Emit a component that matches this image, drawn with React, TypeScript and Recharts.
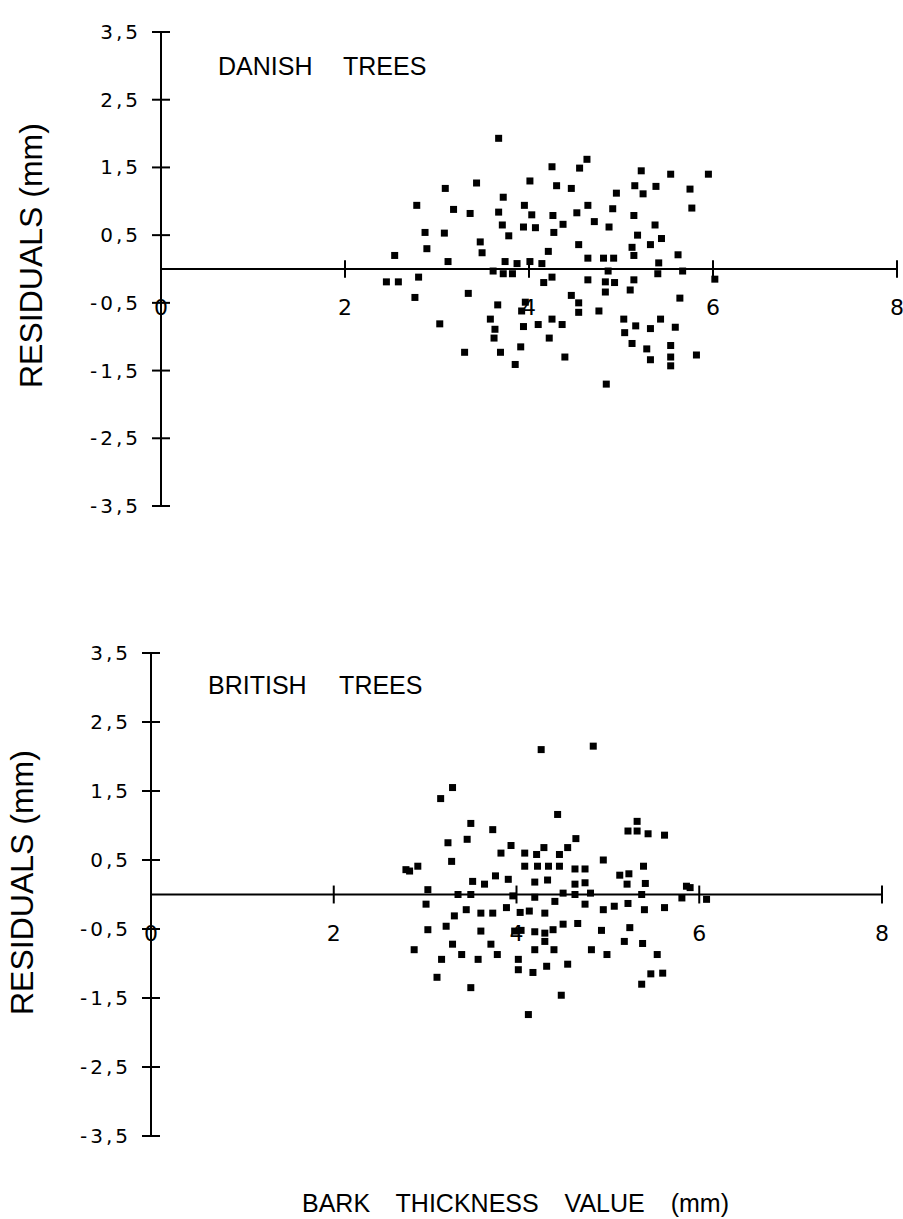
import React from 'react';
import { ScatterChart, Scatter, XAxis, YAxis, ReferenceLine, ReferenceDot } from 'recharts';

// ---- Data ----
const danishX = [
  3.67, 4.63, 4.55, 4.25, 5.22, 5.54, 5.95, 4.01, 3.43, 3.09, 4.30, 4.46, 5.15, 5.38, 4.95, 5.75,
  2.78, 3.72, 3.18, 3.36, 3.67, 3.95, 4.03, 4.26, 4.52, 4.64, 4.91, 5.24, 5.77, 5.14,
  3.71, 3.94, 4.07, 4.37, 4.71, 4.87, 4.27, 3.78, 2.87, 3.08, 3.47, 5.18, 5.37, 5.44,
  4.54, 5.12, 5.32, 2.89, 2.54, 3.49, 4.21, 4.64, 4.81, 4.92, 5.14, 5.41, 5.62,
  3.12, 3.74, 3.87, 4.01, 4.14, 5.67, 3.61, 3.72, 3.82, 4.86, 5.40, 2.80, 2.45, 2.58, 6.02,
  4.25, 4.16, 4.64, 4.83, 4.93, 5.14, 5.10, 4.83, 4.46, 2.76, 3.34, 5.64, 4.54, 3.66, 3.96,
  4.54, 4.76, 3.92, 3.58, 5.03, 5.43, 4.25, 3.03, 3.94, 4.10, 4.36, 3.63, 5.16, 5.32, 5.59,
  5.04, 3.62, 4.22, 5.12, 5.54, 3.30, 3.69, 3.91, 5.28, 4.39, 5.32, 5.54, 5.82, 5.54, 3.85, 4.84,
];
const danishY = [
  1.93, 1.62, 1.49, 1.51, 1.45, 1.40, 1.40, 1.30, 1.27, 1.19, 1.23, 1.19, 1.23, 1.22, 1.12, 1.18,
  0.94, 1.06, 0.88, 0.82, 0.84, 0.94, 0.80, 0.79, 0.83, 0.94, 0.89, 1.11, 0.90, 0.79,
  0.65, 0.62, 0.61, 0.66, 0.70, 0.62, 0.54, 0.49, 0.54, 0.53, 0.40, 0.50, 0.65, 0.45,
  0.36, 0.32, 0.36, 0.30, 0.20, 0.24, 0.26, 0.16, 0.16, 0.16, 0.20, 0.09, 0.21,
  0.11, 0.11, 0.08, 0.11, 0.08, -0.03, -0.03, -0.07, -0.07, -0.03, -0.07, -0.12, -0.19, -0.19, -0.15,
  -0.12, -0.20, -0.16, -0.19, -0.20, -0.16, -0.31, -0.34, -0.39, -0.42, -0.36, -0.43, -0.50, -0.53, -0.49,
  -0.64, -0.62, -0.62, -0.74, -0.74, -0.74, -0.74, -0.81, -0.85, -0.82, -0.82, -0.89, -0.84, -0.88, -0.86,
  -0.94, -1.02, -1.02, -1.10, -1.13, -1.23, -1.23, -1.15, -1.18, -1.30, -1.34, -1.30, -1.27, -1.43, -1.41, -1.70,
];

const britishX = [
  4.27, 4.84, 3.30, 3.17, 4.45, 3.50, 3.74, 5.32, 5.22, 5.32, 5.44, 5.62, 3.25, 3.46, 3.29,
  3.83, 3.94, 4.09, 4.22, 4.30, 4.56, 4.65, 4.47, 4.95, 2.92, 2.83, 4.09, 4.23, 4.35, 4.47,
  4.64, 4.75, 5.39, 5.13, 5.23, 3.52, 3.65, 3.77, 3.91, 4.20, 4.34, 4.64, 4.75, 5.21, 5.41,
  5.86, 3.03, 3.36, 3.50, 3.01, 3.96, 4.20, 4.42, 4.51, 4.64, 4.81, 5.37, 5.81, 5.90, 6.08,
  3.45, 3.61, 3.74, 3.89, 4.04, 4.14, 4.31, 4.75, 4.95, 5.07, 5.22, 5.40, 5.62, 3.32, 3.03,
  3.23, 3.61, 3.98, 4.05, 4.20, 4.31, 4.40, 4.51, 4.67, 4.93, 5.24, 3.30, 3.72, 4.31, 4.20,
  4.41, 2.88, 5.18, 5.38, 4.82, 4.99, 3.18, 3.40, 3.58, 3.79, 4.02, 4.02, 4.18, 4.33, 4.56,
  5.54, 5.47, 5.60, 3.13, 5.37, 3.50, 4.49, 4.13, 2.79,
];
const britishY = [
  2.10, 2.15, 1.55, 1.39, 1.16, 1.03, 0.94, 1.06, 0.92, 0.92, 0.88, 0.86, 0.75, 0.80, 0.48,
  0.60, 0.71, 0.60, 0.58, 0.68, 0.68, 0.81, 0.58, 0.50, 0.41, 0.34, 0.41, 0.41, 0.41, 0.41,
  0.37, 0.37, 0.41, 0.28, 0.30, 0.19, 0.15, 0.27, 0.22, 0.18, 0.21, 0.15, 0.17, 0.15, 0.16,
  0.12, 0.07, 0.00, 0.00, -0.14, -0.02, -0.04, -0.10, 0.02, 0.00, 0.02, 0.00, -0.05, 0.10, -0.07,
  -0.22, -0.27, -0.27, -0.19, -0.26, -0.24, -0.27, -0.14, -0.22, -0.17, -0.13, -0.22, -0.19, -0.31, -0.51,
  -0.46, -0.53, -0.53, -0.52, -0.54, -0.56, -0.51, -0.43, -0.42, -0.52, -0.48, -0.72, -0.72, -0.68, -0.80,
  -0.80, -0.80, -0.68, -0.71, -0.80, -0.87, -0.94, -0.87, -0.94, -0.87, -0.94, -1.09, -1.13, -1.04, -1.01,
  -0.87, -1.15, -1.14, -1.20, -1.30, -1.35, -1.46, -1.74, 0.36,
];

const yTicks = [3.5, 2.5, 1.5, 0.5, -0.5, -1.5, -2.5, -3.5];
const xTicks = [0, 2, 4, 6, 8];
const xTickMarks = [2, 4, 6, 8];
const panelTitles = ['DANISH TREES', 'BRITISH TREES'];
const yTitle = 'RESIDUALS (mm)';
const xTitle = 'BARK THICKNESS VALUE (mm)';

const danish = danishX.map((x, i) => ({ x, y: danishY[i] }));
const british = britishX.map((x, i) => ({ x, y: britishY[i] }));

const FONT = "'Liberation Sans', Arial, Helvetica, sans-serif";
const TICKFONT = "'DejaVu Sans', 'Liberation Sans', sans-serif";

const fmt = (v: number) => String(v).replace('.', ',');

const YTick = (props: any) => {
  const { x, y, payload } = props;
  return (
    <g>
      <line x1={x - 9} x2={x + 9} y1={y} y2={y} stroke="#000" strokeWidth={2} />
      <text
        x={x - 20}
        y={y}
        textAnchor="end"
        dominantBaseline="central"
        fontSize={20}
        letterSpacing={3}
        fontFamily={TICKFONT}
        fill="#000"
      >
        {fmt(payload.value)}
      </text>
    </g>
  );
};

const Square = (props: any) => {
  const { cx, cy } = props;
  if (cx == null || cy == null) return null;
  return <rect x={cx - 3.5} y={cy - 3.5} width={7} height={7} fill="#000" />;
};

type PanelProps = {
  data: { x: number; y: number }[];
  height: number;
  top: number;
  bottom: number;
  left: number;
  right: number;
};

const Panel = ({ data, height, top, bottom, left, right }: PanelProps) => (
  <ScatterChart width={903} height={height} margin={{ top, right, bottom, left: 0 }}>
    <XAxis type="number" dataKey="x" domain={[0, 8]} ticks={xTicks} hide allowDataOverflow />
    <YAxis
      type="number"
      dataKey="y"
      domain={[-3.5, 3.5]}
      ticks={yTicks}
      interval={0}
      width={left}
      tickSize={0}
      tickMargin={0}
      tickLine={false}
      axisLine={{ stroke: '#000', strokeWidth: 2 }}
      tick={<YTick />}
      allowDataOverflow
    />
    <ReferenceLine y={0} stroke="#000" strokeWidth={2} ifOverflow="visible" />
    {xTickMarks.map((t) => (
      <ReferenceLine
        key={'tm' + t}
        segment={[
          { x: t, y: -0.13 },
          { x: t, y: 0.13 },
        ]}
        stroke="#000"
        strokeWidth={2}
        ifOverflow="visible"
      />
    ))}
    {xTicks.map((t) => (
      <ReferenceDot
        key={'tl' + t}
        x={t}
        y={-0.56}
        r={0}
        fill="none"
        stroke="none"
        ifOverflow="visible"
        label={{ value: String(t), position: 'center', fontSize: 22, fill: '#000', fontFamily: TICKFONT }}
      />
    ))}
    <Scatter data={data} dataKey="y" isAnimationActive={false} shape={<Square />} />
  </ScatterChart>
);

export default function App() {
  return (
    <div
      style={{
        position: 'absolute',
        left: 0,
        top: 0,
        width: 903,
        height: 1219,
        background: '#fff',
        overflow: 'hidden',
      }}
    >
      <div style={{ position: 'absolute', left: 0, top: 0 }}>
        <Panel data={danish} height={520} top={32} bottom={14} left={161} right={6} />
      </div>
      <div style={{ position: 'absolute', left: 0, top: 600 }}>
        <Panel data={british} height={560} top={53} bottom={24} left={151} right={21} />
      </div>
      <svg
        width={903}
        height={1219}
        style={{ position: 'absolute', left: 0, top: 0, pointerEvents: 'none' }}
      >
        <text x={218} y={75} fontSize={25} fontFamily={FONT} fill="#000" style={{ wordSpacing: '24px' }}>
          {panelTitles[0]}
        </text>
        <text x={208} y={694} fontSize={25} fontFamily={FONT} fill="#000" style={{ wordSpacing: '26px' }}>
          {panelTitles[1]}
        </text>
        <text
          transform="translate(42,388) rotate(-90)"
          fontSize={32}
          fontFamily={FONT}
          fill="#000"
          textAnchor="start"
        >
          {yTitle}
        </text>
        <text
          transform="translate(33,1015) rotate(-90)"
          fontSize={32}
          fontFamily={FONT}
          fill="#000"
          textAnchor="start"
        >
          {yTitle}
        </text>
        <text x={302} y={1212} fontSize={25} fontFamily={FONT} fill="#000" style={{ wordSpacing: '19px' }}>
          {xTitle}
        </text>
      </svg>
    </div>
  );
}
